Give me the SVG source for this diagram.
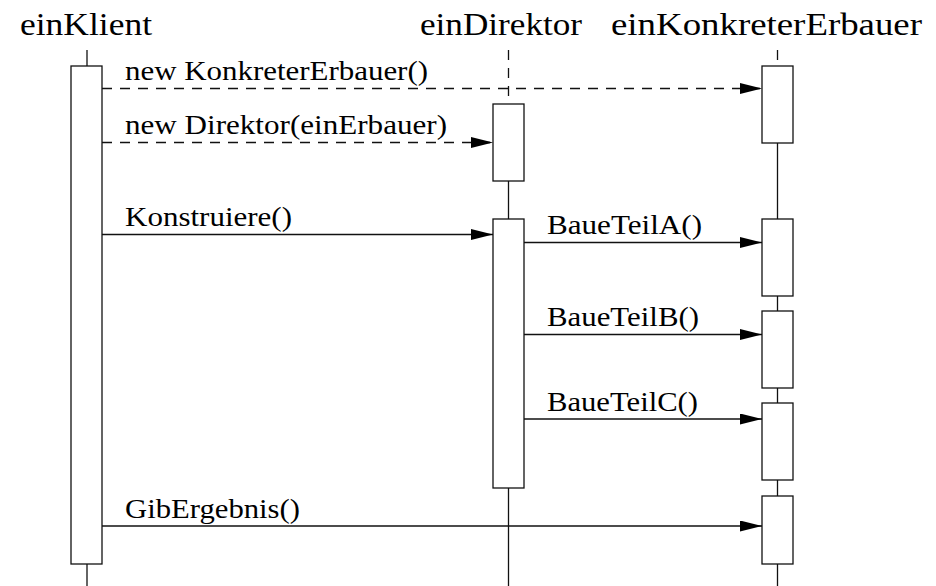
<svg xmlns="http://www.w3.org/2000/svg" width="936" height="586" viewBox="0 0 936 586">
<style>
.ttl{font-size:32px}
.lbl{font-size:27px}
.act{fill:#fff;stroke:#111;stroke-width:1.3}
.life{stroke:#111;stroke-width:1.3;fill:none}
.dash{stroke-dasharray:10 8}
.msg{stroke:#111;stroke-width:1.3;fill:none;marker-end:url(#arr)}
</style>
<defs>
<marker id="arr" markerUnits="userSpaceOnUse" markerWidth="22" markerHeight="11" refX="22" refY="5.5" orient="auto" viewBox="0 0 22 11">
<path d="M0,0 L22,5.5 L0,11 Z" fill="#000"/>
</marker>
</defs>
<rect width="936" height="586" fill="#fff"/>
<g font-family="Liberation Serif, serif" fill="#000">
<g id="einKlient">
<text class="ttl" x="20" y="35" textLength="132" lengthAdjust="spacingAndGlyphs">einKlient</text>
<line class="life" x1="87" y1="50" x2="87" y2="66"/>
<line class="life" x1="87" y1="564" x2="87" y2="586"/>
<rect class="act" x="71" y="66" width="31" height="498"/>
</g>
<g id="einDirektor">
<text class="ttl" x="420" y="35" textLength="162" lengthAdjust="spacingAndGlyphs">einDirektor</text>
<line class="life dash" x1="508.5" y1="50" x2="508.5" y2="104"/>
<line class="life" x1="508.5" y1="181" x2="508.5" y2="219"/>
<line class="life" x1="508.5" y1="488" x2="508.5" y2="586"/>
<rect class="act" x="493" y="104" width="31" height="77"/>
<rect class="act" x="493" y="219" width="31" height="269"/>
</g>
<g id="einKonkreterErbauer">
<text class="ttl" x="611" y="35" textLength="311" lengthAdjust="spacingAndGlyphs">einKonkreterErbauer</text>
<line class="life dash" x1="777.5" y1="50" x2="777.5" y2="66"/>
<line class="life" x1="777.5" y1="143" x2="777.5" y2="586"/>
<rect class="act" x="762" y="66" width="31" height="77"/>
<rect class="act" x="762" y="219" width="31" height="77"/>
<rect class="act" x="762" y="311" width="31" height="77"/>
<rect class="act" x="762" y="403" width="31" height="77"/>
<rect class="act" x="762" y="496" width="31" height="68"/>
</g>
<g id="connectors">
<line class="msg dash" x1="102" y1="88.5" x2="762" y2="88.5"/>
<text class="lbl" x="125" y="80" textLength="303" lengthAdjust="spacingAndGlyphs">new KonkreterErbauer()</text>
<line class="msg dash" x1="102" y1="142.5" x2="493" y2="142.5"/>
<text class="lbl" x="125" y="134" textLength="322" lengthAdjust="spacingAndGlyphs">new Direktor(einErbauer)</text>
<line class="msg" x1="102" y1="234.5" x2="493" y2="234.5"/>
<text class="lbl" x="125" y="226" textLength="167" lengthAdjust="spacingAndGlyphs">Konstruiere()</text>
<line class="msg" x1="524" y1="242.5" x2="762" y2="242.5"/>
<text class="lbl" x="547" y="234" textLength="155" lengthAdjust="spacingAndGlyphs">BaueTeilA()</text>
<line class="msg" x1="524" y1="334.5" x2="762" y2="334.5"/>
<text class="lbl" x="547" y="326" textLength="152" lengthAdjust="spacingAndGlyphs">BaueTeilB()</text>
<line class="msg" x1="524" y1="419" x2="762" y2="419"/>
<text class="lbl" x="547" y="411" textLength="151" lengthAdjust="spacingAndGlyphs">BaueTeilC()</text>
<line class="msg" x1="102" y1="526" x2="762" y2="526"/>
<text class="lbl" x="125" y="518" textLength="175" lengthAdjust="spacingAndGlyphs">GibErgebnis()</text>
</g>
</g>
</svg>
